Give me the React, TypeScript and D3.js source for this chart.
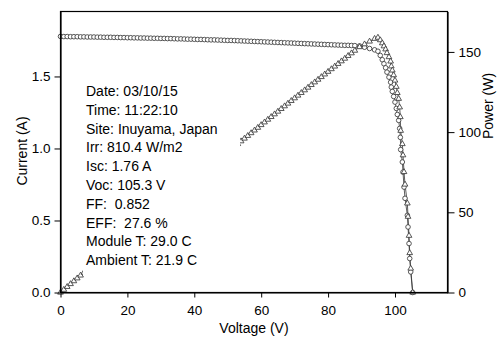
import React, { useEffect, useRef } from 'react';
import * as d3 from 'd3';

// I-V sweep: voltage (V) and current (A)
const voltage = [
  0, 1, 2, 3, 4, 5, 6, 7, 8, 9,
  10, 11, 12, 13, 14, 15, 16, 17, 18, 19,
  20, 21, 22, 23, 24, 25, 26, 27, 28, 29,
  30, 31, 32, 33, 34, 35, 36, 37, 38, 39,
  40, 41, 42, 43, 44, 45, 46, 47, 48, 49,
  50, 51, 52, 53, 54, 55, 56, 57, 58, 59,
  60, 61, 62, 63, 64, 65, 66, 67, 68, 69,
  70, 71, 72, 73, 74, 75, 76, 77, 78, 79,
  80, 81, 82, 83, 84, 85, 86, 87, 88,
  89.4, 90.9, 92.4, 93.9, 94.9, 95.6, 96.2, 96.7, 97.2, 97.6,
  98.2, 98.7, 98.9, 99.2, 99.6, 100.0, 100.4, 100.7, 101.1, 101.4,
  101.6, 101.7, 102.2, 102.4, 102.7, 103.0, 103.7, 103.9, 104.2, 104.4,
  104.7, 105.3,
];
const current = [
  1.778, 1.777, 1.777, 1.776, 1.776, 1.776, 1.775, 1.775, 1.774, 1.774,
  1.774, 1.773, 1.773, 1.772, 1.772, 1.772, 1.771, 1.771, 1.770, 1.770,
  1.769, 1.769, 1.768, 1.768, 1.767, 1.767, 1.766, 1.766, 1.765, 1.765,
  1.764, 1.764, 1.763, 1.763, 1.762, 1.761, 1.761, 1.760, 1.759, 1.759,
  1.758, 1.757, 1.757, 1.756, 1.755, 1.754, 1.754, 1.753, 1.752, 1.751,
  1.750, 1.750, 1.749, 1.748, 1.747, 1.746, 1.745, 1.744, 1.743, 1.742,
  1.741, 1.740, 1.739, 1.738, 1.737, 1.736, 1.735, 1.734, 1.733, 1.732,
  1.731, 1.730, 1.729, 1.728, 1.727, 1.726, 1.725, 1.724, 1.723, 1.722,
  1.721, 1.720, 1.719, 1.718, 1.717, 1.716, 1.716, 1.715, 1.714,
  1.712, 1.703, 1.694, 1.685, 1.675, 1.646, 1.616, 1.588, 1.560, 1.530,
  1.495, 1.460, 1.426, 1.396, 1.361, 1.322, 1.278, 1.236, 1.195, 1.139,
  1.077, 0.992, 0.906, 0.836, 0.732, 0.654, 0.536, 0.455, 0.340, 0.236,
  0.143, 0,
];

const xTicks = [0, 20, 40, 60, 80, 100];
const iTicks = [0, 0.5, 1.0, 1.5];
const pTicks = [0, 50, 100, 150];

const infoLines = [
  'Date: 03/10/15',
  'Time: 11:22:10',
  'Site: Inuyama, Japan',
  'Irr: 810.4 W/m2',
  'Isc: 1.76 A',
  'Voc: 105.3 V',
  'FF:  0.852',
  'EFF:  27.6 %',
  'Module T: 29.0 C',
  'Ambient T: 21.9 C',
];

const FONT = '"Liberation Sans", Arial, sans-serif';

export default function App() {
  const svgRef = useRef<SVGSVGElement>(null);

  useEffect(() => {
    if (!svgRef.current) return;
    const svg = d3.select(svgRef.current);
    svg.selectAll('*').remove();

    const x = d3.scaleLinear().domain([0, 115.7]).range([60.5, 447.5]);
    const yI = d3.scaleLinear().domain([0, 1.951]).range([292.5, 11.5]);
    const yP = d3.scaleLinear().domain([0, 175.2]).range([292.5, 11.5]);

    const ivPoints = voltage.map((v, i) => ({ v, i: current[i] }));
    // power of each sweep point, P = V x I
    const pvPoints = ivPoints.map(d => ({ v: d.v, p: d.v * d.i }));

    const g = svg.append('g');

    // Current curve
    g.append('path')
      .datum(ivPoints)
      .attr('fill', 'none')
      .attr('stroke', '#333')
      .attr('stroke-width', 0.8)
      .attr('d', d3.line<{ v: number; i: number }>().x(d => x(d.v)).y(d => yI(d.i)));

    // Power curve
    g.append('path')
      .datum(pvPoints)
      .attr('fill', 'none')
      .attr('stroke', '#333')
      .attr('stroke-width', 0.8)
      .attr('d', d3.line<{ v: number; p: number }>().x(d => x(d.v)).y(d => yP(d.p)));

    g.selectAll('.iv')
      .data(ivPoints)
      .join('circle')
      .attr('cx', d => x(d.v))
      .attr('cy', d => yI(d.i))
      .attr('r', 2.3)
      .attr('fill', '#fff')
      .attr('stroke', '#3a3a3a')
      .attr('stroke-width', 0.85);

    const tri = d3.symbol().type(d3.symbolTriangle).size(14);
    g.selectAll('.pv')
      .data(pvPoints)
      .join('path')
      .attr('transform', d => `translate(${x(d.v)},${yP(d.p)})`)
      .attr('d', tri()!)
      .attr('fill', '#fff')
      .attr('stroke', '#3a3a3a')
      .attr('stroke-width', 0.85);

    // Info box (white background hides the curve behind it)
    svg.append('rect')
      .attr('x', 83)
      .attr('y', 78)
      .attr('width', 157)
      .attr('height', 198)
      .attr('fill', '#fff');

    svg.append('g')
      .selectAll('text')
      .data(infoLines)
      .join('text')
      .attr('x', 86)
      .attr('y', (_, i) => 96 + i * 18.8)
      .attr('font-family', FONT)
      .attr('font-size', 14)
      .attr('fill', '#000')
      .style('white-space', 'pre')
      .text(d => d);

    // Frame
    svg.append('rect')
      .attr('x', 60.5)
      .attr('y', 11.5)
      .attr('width', 387)
      .attr('height', 281)
      .attr('fill', 'none')
      .attr('stroke', '#000')
      .attr('stroke-width', 1.2);

    const styleAxis = (a: d3.Selection<SVGGElement, unknown, null, undefined>) => {
      a.attr('font-family', FONT).attr('font-size', 13.5);
      a.selectAll('path').attr('stroke', '#000').attr('stroke-width', 1.2);
      a.selectAll('line').attr('stroke', '#000');
      a.selectAll('text').attr('fill', '#000');
    };

    svg.append('g')
      .attr('transform', 'translate(0,292.5)')
      .call(d3.axisBottom(x).tickValues(xTicks).tickSize(5).tickSizeOuter(0).tickPadding(8).tickFormat(d3.format('d')))
      .call(styleAxis);

    svg.append('g')
      .attr('transform', 'translate(60.5,0)')
      .call(d3.axisLeft(yI).tickValues(iTicks).tickSize(6).tickSizeOuter(0).tickPadding(4).tickFormat(d3.format('.1f')))
      .call(styleAxis);

    svg.append('g')
      .attr('transform', 'translate(447.5,0)')
      .call(d3.axisRight(yP).tickValues(pTicks).tickSize(7).tickSizeOuter(0).tickPadding(4).tickFormat(d3.format('d')))
      .call(styleAxis);

    // Axis titles
    svg.append('text')
      .attr('x', 254)
      .attr('y', 333)
      .attr('text-anchor', 'middle')
      .attr('font-family', FONT)
      .attr('font-size', 14)
      .text('Voltage (V)');

    svg.append('text')
      .attr('transform', 'translate(27,151) rotate(-90)')
      .attr('text-anchor', 'middle')
      .attr('font-family', FONT)
      .attr('font-size', 14)
      .text('Current (A)');

    svg.append('text')
      .attr('transform', 'translate(493,106) rotate(-90)')
      .attr('text-anchor', 'middle')
      .attr('font-family', FONT)
      .attr('font-size', 14)
      .text('Power (W)');
  }, []);

  return (
    <svg
      ref={svgRef}
      width={500}
      height={338}
      style={{ position: 'absolute', left: 0, top: 0, background: '#fff' }}
    />
  );
}
